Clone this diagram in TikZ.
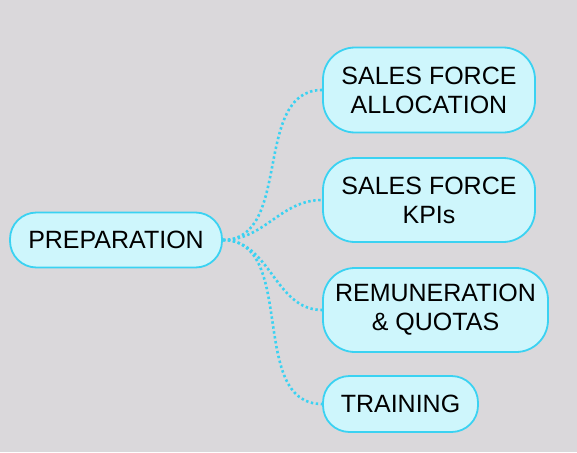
\documentclass[tikz,border=0pt]{standalone}
\usepackage{fontspec}
\setmainfont{Liberation Sans}
\usepackage{tikz}
\usetikzlibrary{positioning}
\definecolor{bggray}{RGB}{218,216,219}
\definecolor{boxfill}{RGB}{206,246,252}
\definecolor{boxline}{RGB}{58,210,242}
\tikzstyle{topic}  = [rectangle, rounded corners=32pt, minimum width=212pt, minimum height=84pt, inner sep=0pt, align=center, draw=boxline, line width=1.8pt, fill=boxfill, font=\fontsize{25}{29}\selectfont]
\tikzstyle{flat}   = [rounded corners=26.5pt]
\tikzstyle{link}   = [boxline, line width=2.6pt, dash pattern=on 2.4pt off 2.6pt]

\begin{document}
\begin{tikzpicture}[x=1pt, y=-1pt]
    % Background
    \fill [bggray] (0,0) rectangle (577,452);
    \useasboundingbox (0,0) rectangle (577,452);

    % Nodes
    \node (preparation)   [topic, flat, minimum height=55pt]                    at (116,240) {PREPARATION};
    \node (sf_allocation) [topic, minimum height=85pt]                          at (429,90)  {SALES FORCE\\ALLOCATION};
    \node (sf_kpis)       [topic]                                               at (429,200) {SALES FORCE\\KPIs};
    \node (remuneration)  [topic, minimum width=225pt]                          at (435.5,310) {REMUNERATION\\\& QUOTAS};
    \node (training)      [topic, flat, minimum width=155pt, minimum height=56pt] at (400.5,404) {TRAINING};

    % Connectors
    \draw [link] (preparation.east) to[out=0, in=180] (sf_allocation.west);
    \draw [link] (preparation.east) to[out=0, in=180] (sf_kpis.west);
    \draw [link] (preparation.east) to[out=0, in=180] (remuneration.west);
    \draw [link] (preparation.east) to[out=0, in=180] (training.west);
\end{tikzpicture}
\end{document}
